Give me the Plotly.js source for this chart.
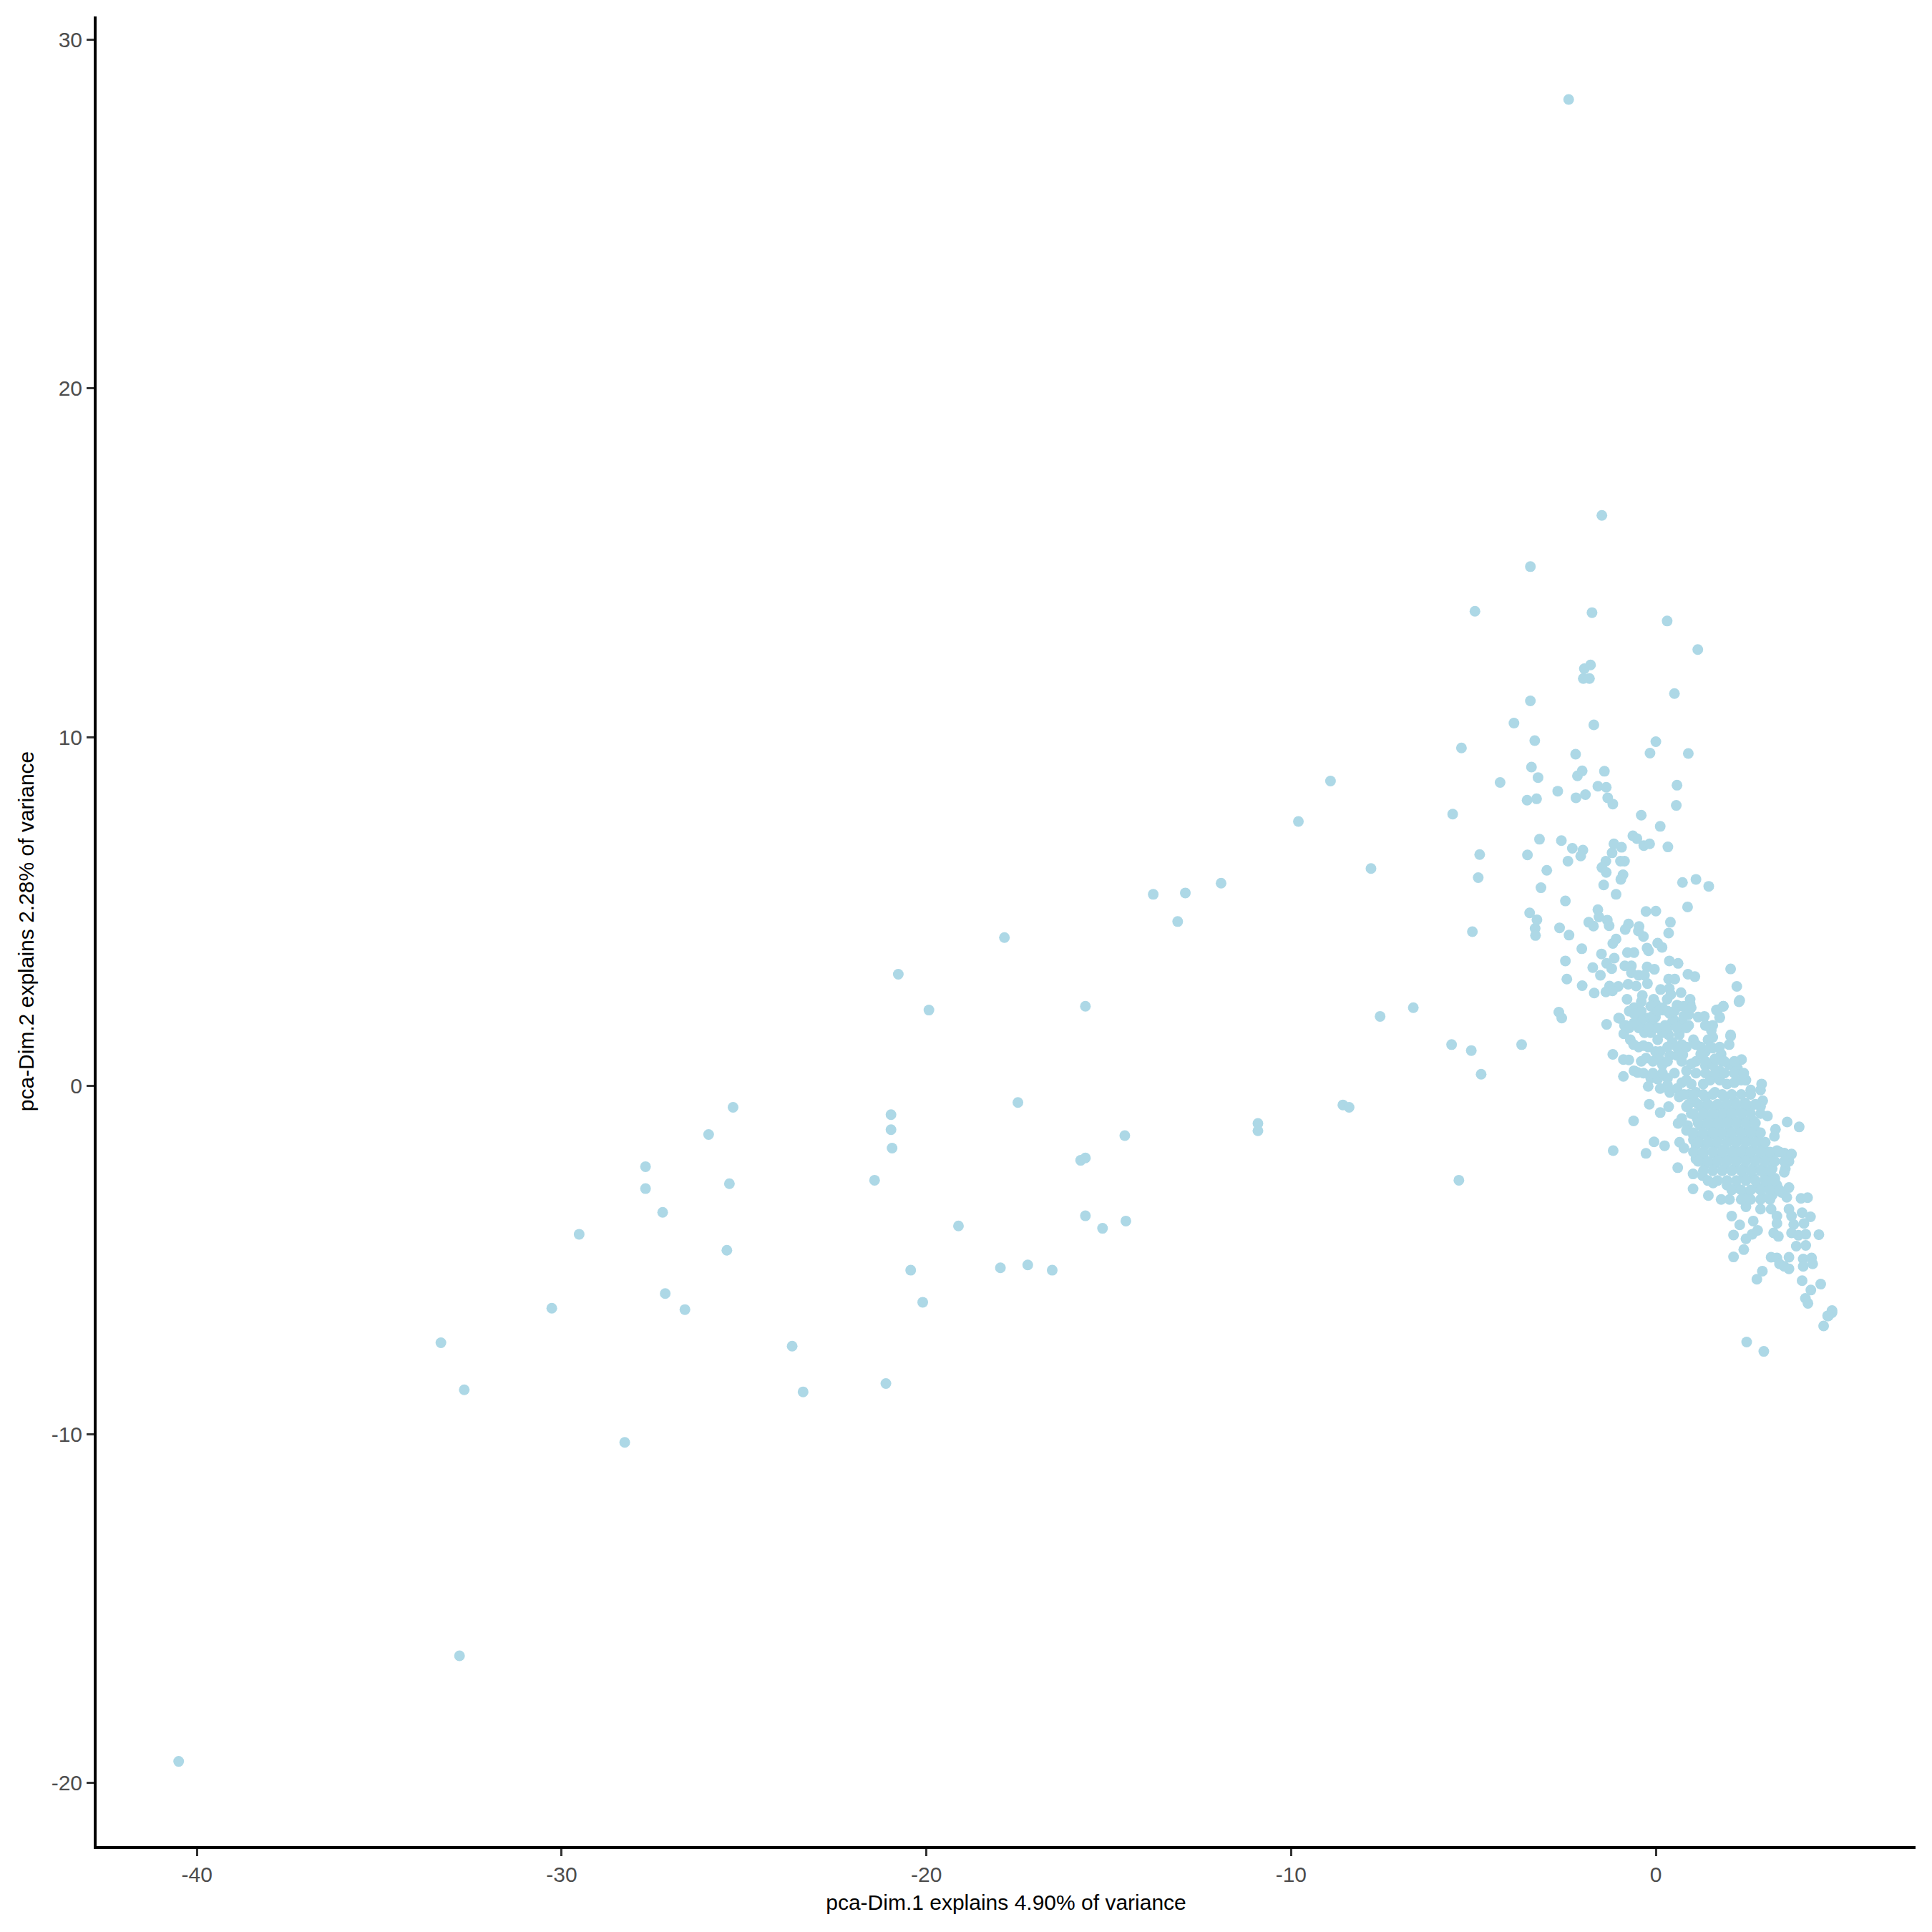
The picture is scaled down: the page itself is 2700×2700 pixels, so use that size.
<!DOCTYPE html>
<html>
<head>
<meta charset="utf-8">
<script src="https://cdn.plot.ly/plotly-3.0.1.min.js"></script>
<style>html,body{margin:0;padding:0;background:#fff;}#chart{width:2700px;height:2700px;}</style>
</head>
<body>
<div id="chart"></div>
<script>
// PCA coordinates
const pc1 = [
-40.5,-33.31,-32.67,-32.80,-30.27,-29.52,-28.27,-27.70,-27.70,-27.23,-27.16,-26.62,-25.97,-25.30,-25.40,-25.47,-23.68,-23.38,-21.42,-21.11,
-20.97,-20.97,-20.94,-20.77,-20.43,-20.10,-19.93,-19.12,-17.97,-17.86,-17.49,-17.22,-16.55,-15.77,-15.64,-15.64,-15.64,-15.17,-14.56,-14.53,
-13.78,-13.11,-12.90,-11.92,-10.91,-10.91,-9.80,-8.92,-8.58,-8.41,-7.81,-7.56,-6.65,-5.57,-5.60,-5.40,-5.33,-5.06,-4.96,-4.79,
-3.68,-3.44,-3.44,-2.39,-1.99,-1.96,-1.82,-1.79,-1.75,-1.48,0.31,1.15,0.51,
// upper cluster
-3.89,-1.70,-3.32,-2.20,0.0,-0.16,0.89,-3.41,-3.23,-4.27,-2.15,-2.02,-1.41,-2.69,-3.53,-3.27,-2.19,-1.93,-1.59,-1.36,
-1.32,-1.18,0.58,0.56,-0.40,0.12,-0.63,-0.52,-0.33,-0.17,0.33,-4.83,-4.87,-3.52,-3.19,-2.59,-2.29,-2.0,-2.06,-2.41,
-2.99,-3.15,-2.48,-1.15,-0.94,-1.20,-1.37,-1.48,-1.36,-0.97,-0.86,-0.90,-0.96,-1.43,-1.09,0.73,1.10,1.45,0.87,-3.46,
-3.26,-3.31,-3.30,-5.03,-2.64,-2.38,-1.59,-1.56,-1.84,-1.71,-1.33,-1.28,-0.27,0.0,-0.75,-0.84,-0.46,-0.48,-0.34,0.40,
0.35,-1.09,-1.18,-2.03,-1.49,-0.24,-0.20,0.05,0.17,-2.48,-2.44,-2.02,-1.69,-1.73,-1.52,-1.35,-1.21,-1.14,-0.85,-0.78,
-0.60,-0.67,-0.67,-0.47,-0.24,-0.04,-0.31,0.37,0.61,0.88,1.07,0.35,0.52,2.05,2.22,2.30,-1.27,-1.03,-1.37,-1.19,
-0.76,-0.54,-0.23,-0.37,-0.79,0.13,0.37,0.69,0.41,0.31,-0.06,-0.01,0.18,0.58,0.94,0.94,0.77,-2.66,-2.58,-1.35,
-1.02,-0.86,-0.73,-0.60,-0.40,-0.21,-0.01,-0.47,-0.08,0.38,0.51,0.71,0.90,1.16,1.33,1.36,1.69,1.85,1.75,1.52,
2.05,-0.88,-0.31,0.18,0.64,
// main dense cluster
-1.18,-0.89,-0.74,-0.60,-0.89,-0.50,-0.40,-0.27,-0.70,-0.61,-0.34,-0.01,0.12,0.09,0.18,0.38,0.58,0.74,0.71,1.03,
1.10,1.36,1.56,1.79,1.10,1.36,1.56,1.75,2.01,2.05,2.01,2.24,2.35,1.56,1.36,1.56,1.66,1.85,1.75,0.97,
0.77,0.90,0.64,0.35,0.18,-0.14,-0.34,-0.40,-0.60,-0.08,0.32,0.45,2.28,-0.14,0.05,0.12,-0.21,0.32,0.32,0.38,
0.35,0.12,-0.18,-0.61,0.58,0.71,0.84,0.97,0.64,0.84,0.71,0.61,0.87,0.84,1.13,1.07,1.10,1.30,1.49,1.75,
1.95,2.15,2.34,2.47,2.60,2.90,2.87,2.93,2.87,3.06,3.60,3.93,3.28,3.25,2.44,2.15,1.88,1.62,1.36,1.36,
1.62,1.88,2.15,2.41,2.60,1.36,1.62,1.88,2.15,2.41,2.67,1.23,1.49,1.75,2.02,2.28,2.54,2.73,1.23,1.49,
1.75,2.02,2.28,2.54,2.80,1.10,1.36,1.62,1.88,2.15,2.41,2.67,2.93,3.06,3.32,3.52,3.72,3.65,3.55,3.52,
-0.05,0.24,-0.27,-1.17,0.65,0.77,1.03,1.10,1.30,1.36,1.62,1.62,1.88,2.15,2.41,2.67,2.93,3.19,3.19,2.93,
2.67,2.41,2.15,1.88,0.60,1.02,1.28,1.57,1.02,1.44,1.79,2.02,1.95,2.21,2.41,2.67,3.00,3.26,3.32,3.06,
2.80,2.54,2.41,2.93,3.19,3.45,3.65,3.59,3.98,4.16,2.47,2.87,3.16,3.32,3.65,3.72,4.01,4.24,2.08,2.30,
2.67,3.32,3.78,4.06,4.47,2.47,2.64,2.79,2.13,3.23,3.36,3.72,3.91,4.11,3.85,4.11,2.13,2.41,3.16,3.32,
3.39,3.65,3.65,3.52,4.04,4.27,4.04,4.30,2.92,2.77,4.01,4.52,4.25,4.10,4.17,4.83,4.71,
-0.99,-0.83,-0.14,0.18,0.64,0.71,0.45,0.05,0.84,0.97,0.51,0.90,0.97,1.23,1.03,1.23,1.62,1.82,1.23,1.43,2.46,
// core of the dense cluster
0.77,1.03,1.30,1.56,1.82,2.08,2.34,2.60,
0.90,1.16,1.43,1.69,1.95,2.21,2.47,2.73,
1.03,1.30,1.56,1.82,2.08,2.34,2.60,2.87,
1.16,1.43,1.69,1.95,2.21,2.47,2.73,
1.03,1.30,1.56,1.82,2.08,2.34,2.60,2.87,
1.16,1.43,1.69,1.95,2.21,2.47,2.73,3.00,
1.03,1.30,1.56,1.82,2.08,2.34,2.60,2.87,3.13,3.39,
1.16,1.43,1.69,1.95,2.21,2.47,2.73,3.00,3.26,3.52,
1.30,1.56,1.82,2.08,2.34,2.60,2.87,3.13,
1.43,1.69,1.95,2.21,2.47,2.73,3.00,3.26,
2.08,2.34,2.60,2.87,3.13,3.39,
2.34,2.60,2.87,3.13,
-0.73,-0.47,-0.21,0.05,0.32,0.58,0.84,
-0.47,-0.21,0.32,0.58,0.84,1.23,1.49,1.75,
-0.08,0.32,0.71,1.36,1.88,2.15,
-0.34,-0.08,0.18,1.10,1.36,1.62,1.88,2.15,2.41,
-0.60,-0.21,0.25,0.51,0.05,-0.40,
// lower tail
2.49,2.96,4.60,4.83,4.73
];
const pc2 = [
-19.38,-7.37,-8.72,-16.35,-6.38,-4.26,-10.23,-2.32,-2.95,-3.63,-5.96,-6.42,-1.40,-0.62,-2.81,-4.72,-7.47,-8.78,-2.71,-8.54,
-0.83,-1.26,-1.79,3.20,-5.29,-6.21,2.17,-4.02,-5.22,4.25,-0.48,-5.14,-5.29,-2.14,-2.07,2.28,-3.73,-4.09,-1.43,-3.88,
5.49,4.71,5.53,5.81,-1.08,-1.29,7.58,8.74,-0.55,-0.62,6.23,1.99,2.24,7.79,1.18,-2.71,9.69,1.01,13.61,0.33,
1.18,14.89,11.04,28.29,11.68,11.96,11.68,12.07,13.57,16.36,13.33,12.51,11.25,
// upper cluster
10.40,10.35,9.90,9.51,9.87,9.54,9.53,9.14,8.84,8.70,8.89,9.03,9.02,8.45,8.19,8.23,8.26,8.35,8.59,8.56,
8.26,8.08,8.62,8.04,7.76,7.44,7.17,7.09,6.89,6.94,6.85,6.63,5.97,6.62,7.07,7.03,6.81,6.76,6.59,6.44,
6.18,5.68,5.30,6.94,6.84,6.68,6.44,6.26,6.12,6.44,6.44,6.05,5.92,5.76,5.49,5.83,5.92,5.72,5.13,4.96,
4.76,4.51,4.31,4.42,4.53,4.32,5.05,4.84,4.69,4.58,4.75,4.59,5.00,5.01,4.64,4.48,4.57,4.44,4.28,4.69,
4.38,4.21,4.08,3.93,3.78,3.95,3.87,4.09,3.97,3.58,3.06,2.87,2.66,3.39,3.17,3.51,3.36,3.66,3.44,3.82,
3.82,3.44,3.24,3.17,3.41,3.34,3.17,3.58,3.51,3.20,3.13,3.06,3.06,3.35,2.85,2.45,2.86,2.85,2.69,2.72,
2.91,2.86,2.93,2.59,2.48,2.76,2.79,2.67,2.62,2.48,2.48,2.35,2.17,2.31,2.48,2.35,2.28,2.11,1.94,1.76,
1.94,1.73,2.14,2.24,2.14,1.94,1.97,1.87,1.73,2.07,1.87,1.80,2.04,1.97,1.99,1.73,2.18,2.28,1.97,1.59,
1.46,1.49,1.52,1.52,1.49,
// main dense cluster
0.90,0.75,0.74,0.43,0.27,0.38,0.70,0.79,1.32,1.18,1.15,0.98,0.98,0.77,0.60,0.87,0.87,0.89,1.18,1.32,
1.18,0.98,1.08,0.91,0.70,0.57,0.60,0.43,1.18,1.42,0.60,0.50,0.75,1.73,1.73,1.39,2.17,2.28,1.95,2.24,
2.00,1.73,1.46,1.46,1.56,1.52,1.59,1.87,2.07,2.00,2.14,1.83,2.41,0.22,0.19,-0.08,-0.02,0.22,0.02,-0.19,
-0.60,-0.77,-0.53,-1.01,-0.08,0.09,0.16,0.05,-0.32,-0.60,-0.94,-1.08,-1.14,-1.28,-0.94,-0.46,-0.19,0.05,0.16,0.16,
0.05,0.09,0.16,0.16,-0.12,0.05,-0.12,-0.43,-0.60,-0.87,-1.04,-1.18,-1.25,-1.45,-0.49,-0.46,-0.32,-0.19,-0.32,-0.60,
-0.60,-0.60,-0.73,-0.73,-0.60,-0.87,-0.87,-0.87,-1.01,-1.01,-1.01,-1.14,-1.14,-1.14,-1.28,-1.28,-1.28,-1.28,-1.42,-1.42,
-1.42,-1.55,-1.55,-1.55,-1.55,-1.69,-1.69,-1.69,-1.83,-1.83,-1.83,-1.83,-1.69,-1.90,-1.86,-1.93,-1.96,-2.17,-2.38,-2.48,
-1.61,-1.72,-1.94,-1.86,-1.62,-1.79,-1.55,-2.10,-1.96,-2.24,-1.96,-2.24,-2.10,-2.10,-2.10,-2.10,-2.10,-2.10,-2.38,-2.38,
-2.38,-2.38,-2.38,-2.38,-2.35,-2.53,-2.58,-2.79,-2.96,-3.15,-3.26,-3.26,-2.85,-2.92,-2.65,-2.65,-2.65,-2.65,-2.85,-2.92,
-2.92,-3.06,-3.20,-3.20,-3.13,-3.06,-2.92,-3.20,-3.23,-3.21,-3.47,-3.54,-3.54,-3.74,-3.54,-3.74,-3.64,-3.76,-3.74,-3.99,
-3.88,-3.95,-3.98,-3.95,-4.27,-4.39,-4.26,-4.15,-4.28,-4.22,-4.32,-4.22,-4.29,-4.26,-4.60,-4.58,-4.91,-4.70,-4.92,-4.94,
-5.11,-4.92,-5.25,-5.18,-4.97,-4.94,-5.18,-5.11,-5.32,-5.55,-5.59,-5.69,-5.86,-6.10,-6.24,-6.45,-6.60,
1.93,1.73,2.28,2.24,2.28,1.73,1.25,1.32,0.43,0.63,0.36,-0.25,-0.80,-0.60,-1.42,-1.96,0.77,0.70,0.91,1.32,0.16,
// core of the dense cluster
-0.25,-0.25,-0.25,-0.25,-0.25,-0.25,-0.25,-0.25,
-0.53,-0.53,-0.53,-0.53,-0.53,-0.53,-0.53,-0.53,
-0.80,-0.80,-0.80,-0.80,-0.80,-0.80,-0.80,-0.80,
-1.07,-1.07,-1.07,-1.07,-1.07,-1.07,-1.07,
-1.35,-1.35,-1.35,-1.35,-1.35,-1.35,-1.35,-1.35,
-1.62,-1.62,-1.62,-1.62,-1.62,-1.62,-1.62,-1.62,
-1.90,-1.90,-1.90,-1.90,-1.90,-1.90,-1.90,-1.90,-1.90,-1.90,
-2.17,-2.17,-2.17,-2.17,-2.17,-2.17,-2.17,-2.17,-2.17,-2.17,
-2.44,-2.44,-2.44,-2.44,-2.44,-2.44,-2.44,-2.44,
-2.72,-2.72,-2.72,-2.72,-2.72,-2.72,-2.72,-2.72,
-2.99,-2.99,-2.99,-2.99,-2.99,-2.99,
-3.26,-3.26,-3.26,-3.26,
1.66,1.66,1.66,1.66,1.66,1.66,1.66,
1.11,1.11,1.11,1.11,1.11,1.11,1.11,1.11,
0.70,0.70,0.70,0.70,0.70,0.70,
0.36,0.36,0.36,0.36,0.36,0.36,0.36,0.36,0.36,
1.80,1.66,1.73,2.14,2.14,2.41,
// lower tail
-7.35,-7.62,-6.89,-6.51,-6.60
];

const xTicks = [-40, -30, -20, -10, 0];
const yTicks = [-20, -10, 0, 10, 20, 30];
const xTitle = 'pca-Dim.1 explains 4.90% of variance';
const yTitle = 'pca-Dim.2 explains 2.28% of variance';
const pointColor = '#ADD8E6';

const fontFam = 'Liberation Sans, Arial, Helvetica, sans-serif';

const trace = {
  x: pc1, y: pc2, type: 'scatter', mode: 'markers',
  marker: {color: pointColor, size: 15, line: {width: 0}},
  hoverinfo: 'x+y'
};

const axisCommon = {
  showgrid: false, zeroline: false, showline: true, linecolor: '#000000', linewidth: 4,
  ticks: 'outside', ticklen: 10, tickwidth: 3, tickcolor: '#333333',
  tickfont: {family: fontFam, size: 30, color: '#4D4D4D'},
  automargin: false
};

const layout = {
  width: 2700, height: 2700,
  paper_bgcolor: '#ffffff', plot_bgcolor: '#ffffff',
  margin: {l: 135, r: 23, t: 23, b: 120},
  showlegend: false,
  xaxis: Object.assign({}, axisCommon, {
    range: [-42.75, 7.12], tickvals: xTicks, ticktext: xTicks.map(String),
    title: {text: xTitle, font: {family: fontFam, size: 30, color: '#000000'}, standoff: 14}
  }),
  yaxis: Object.assign({}, axisCommon, {
    range: [-21.81, 30.67], tickvals: yTicks, ticktext: yTicks.map(String),
    title: {text: yTitle, font: {family: fontFam, size: 30, color: '#000000'}, standoff: 16}
  }),
  font: {family: fontFam}
};

Plotly.newPlot('chart', [trace], layout, {staticPlot: true, displayModeBar: false});
</script>
</body>
</html>
